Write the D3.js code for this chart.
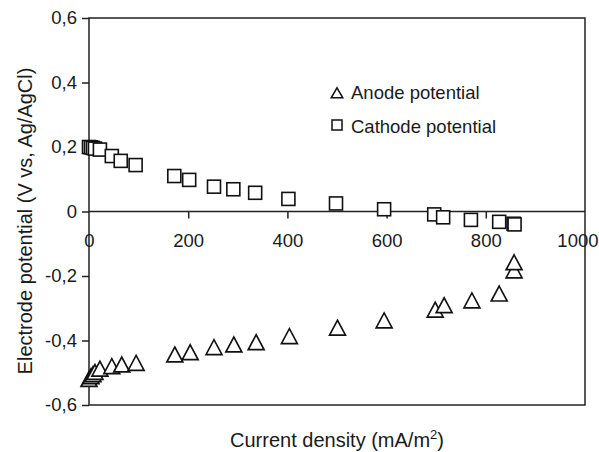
<!DOCTYPE html>
<html>
<head>
<meta charset="utf-8">
<script src="https://cdn.jsdelivr.net/npm/d3@7"></script>
<style>
  body { margin: 0; background: #fff; }
  text { font-family: "Liberation Sans", Arial, sans-serif; fill: #1a1a1a; }
</style>
</head>
<body>
<div id="chart"></div>
<script>
const cathodeX = [0, 4, 8, 12, 22, 46, 64, 94, 172, 202, 252, 291, 335, 402, 498, 595, 696, 714, 770, 827, 856, 858];
const cathodeY = [0.200, 0.199, 0.197, 0.195, 0.192, 0.172, 0.157, 0.144, 0.110, 0.098, 0.077, 0.069, 0.058, 0.039, 0.025, 0.007, -0.009, -0.018, -0.026, -0.032, -0.038, -0.040];
const anodeX = [0, 4, 8, 12, 22, 46, 66, 95, 173, 204, 252, 292, 337, 404, 501, 595, 698, 716, 772, 827, 857, 857];
const anodeY = [-0.520, -0.511, -0.505, -0.498, -0.488, -0.480, -0.475, -0.470, -0.444, -0.437, -0.421, -0.413, -0.406, -0.387, -0.361, -0.338, -0.305, -0.291, -0.276, -0.255, -0.183, -0.158];
const xTicks = [0, 200, 400, 600, 800, 1000];
const yTicks = [-0.6, -0.4, -0.2, 0, 0.2, 0.4, 0.6];

const W = 599, H = 452;
const mLeft = 89, mRight = 585, mTop = 18, mBottom = 405;

const svg = d3.select("#chart").append("svg")
    .attr("width", W)
    .attr("height", H);

const x = d3.scaleLinear().domain([0, 1000]).range([mLeft, mRight]);
const y = d3.scaleLinear().domain([-0.6, 0.6]).range([mBottom, mTop]);

// frame
svg.append("rect")
    .attr("x", mLeft).attr("y", mTop)
    .attr("width", mRight - mLeft).attr("height", mBottom - mTop)
    .attr("fill", "none").attr("stroke", "#222").attr("stroke-width", 1.5);

// y axis (ticks outward, comma decimals, plain hyphen)
const yAxis = d3.axisLeft(y)
    .tickValues(yTicks)
    .tickSize(7)
    .tickPadding(5)
    .tickFormat(d => d === 0 ? "0" : d.toFixed(1).replace(".", ","));
const gy = svg.append("g").attr("transform", `translate(${mLeft},0)`).call(yAxis);
gy.select(".domain").remove();
gy.selectAll("line").attr("stroke", "#222").attr("stroke-width", 1.5);
gy.selectAll("text").style("font-size", "18.5px").attr("fill", "#1a1a1a");

// x axis drawn on the zero line
const xAxis = d3.axisBottom(x)
    .tickValues(xTicks)
    .tickSize(7)
    .tickPadding(15)
    .tickFormat(d3.format("d"));
const gx = svg.append("g").attr("transform", `translate(0,${y(0)})`).call(xAxis);
gx.select(".domain").attr("d", `M${mLeft},0H${mRight}`).attr("stroke", "#222").attr("stroke-width", 1.5);
gx.selectAll(".tick line").attr("stroke", "#222").attr("stroke-width", 1.5)
    .filter(d => d === 0 || d === 1000).remove();
gx.selectAll("text").style("font-size", "18.5px").attr("fill", "#1a1a1a");
// last label is pushed left so it stays inside the picture
gx.selectAll(".tick text").filter(d => d === 1000)
    .attr("text-anchor", "end").attr("x", 13);

// markers
const tri = d3.symbol().type(d3.symbolTriangle).size(110);

svg.append("g").selectAll("rect")
  .data(cathodeX.map((d, i) => [d, cathodeY[i]]))
  .join("rect")
    .attr("x", d => x(d[0]) - 6.5)
    .attr("y", d => y(d[1]) - 6.5)
    .attr("width", 13).attr("height", 13)
    .attr("fill", "#fff").attr("stroke", "#111").attr("stroke-width", 1.6);

svg.append("g").selectAll("path")
  .data(anodeX.map((d, i) => [d, anodeY[i]]))
  .join("path")
    .attr("d", tri)
    .attr("transform", d => `translate(${x(d[0])},${y(d[1]) + 2.3}) scale(1,1.08)`)
    .attr("fill", "#fff").attr("stroke", "#111").attr("stroke-width", 1.6);

// legend
const lg = svg.append("g");
lg.append("path").attr("d", d3.symbol().type(d3.symbolTriangle).size(58))
    .attr("transform", "translate(337,94.5)")
    .attr("fill", "none").attr("stroke", "#111").attr("stroke-width", 1.5);
lg.append("text").attr("x", 351).attr("y", 99).style("font-size", "18.5px").text("Anode potential");
lg.append("rect").attr("x", 332).attr("y", 120).attr("width", 10).attr("height", 10)
    .attr("fill", "none").attr("stroke", "#111").attr("stroke-width", 1.5);
lg.append("text").attr("x", 351).attr("y", 133).style("font-size", "18.5px").text("Cathode potential");

// axis titles
const xt = svg.append("text").attr("x", (mLeft + mRight) / 2).attr("y", 447)
    .attr("text-anchor", "middle").style("font-size", "20px");
xt.append("tspan").text("Current density (mA/m");
xt.append("tspan").attr("dy", -8).style("font-size", "13px").text("2");
xt.append("tspan").attr("dy", 8).text(")");

svg.append("text")
    .attr("transform", "translate(32,221) rotate(-90)")
    .attr("text-anchor", "middle").style("font-size", "20px")
    .text("Electrode potential (V vs, Ag/AgCl)");
</script>
</body>
</html>
